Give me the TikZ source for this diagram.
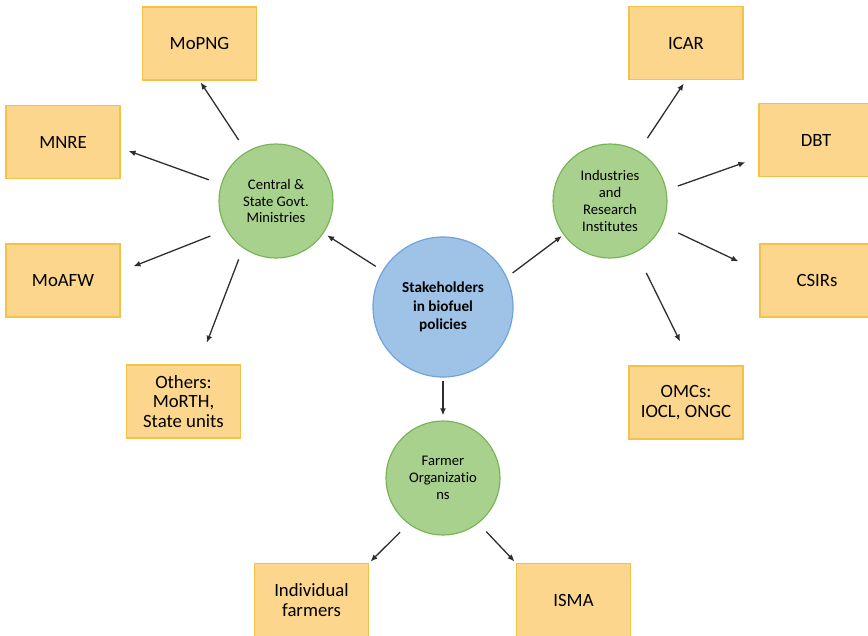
\documentclass[tikz,border=0pt]{standalone}
\usepackage{fontspec}
\setmainfont[Ligatures=NoCommon]{Carlito}
\usetikzlibrary{arrows.meta}
\definecolor{boxfill}{HTML}{FCD68C}
\definecolor{boxline}{HTML}{F6C147}
\definecolor{leaffill}{HTML}{A9D18E}
\definecolor{leafline}{HTML}{78B455}
\definecolor{hubfill}{HTML}{9FC3E7}
\definecolor{hubline}{HTML}{6FA3DA}
\definecolor{inkgray}{HTML}{2E2E2E}

\begin{document}
\begin{tikzpicture}[x=0.03cm,y=-0.03cm,
  actor/.style={draw=boxline, line width=1pt, fill=boxfill, minimum width=3.42cm, minimum height=2.19cm, inner sep=2pt, align=center, text=black, font=\fontsize{16}{16.5}\selectfont},
  group/.style={circle, draw=leafline, line width=1pt, fill=leaffill, minimum size=3.42cm, inner sep=0pt, align=center, text=black, font=\fontsize{12.5}{14.4}\selectfont},
  hub/.style={circle, draw=hubline, line width=1pt, fill=hubfill, minimum size=4.2cm, inner sep=0pt, align=center, text=black, font=\fontsize{13}{15.6}\selectfont\bfseries},
  link/.style={draw=inkgray, line width=1.1pt, -{Latex[length=6pt,width=5pt]}}]
\clip (0,0) rectangle (868,635);
% centre and the three groups
\node[hub] (stake) at (443,307) {Stakeholders\\in biofuel\\policies};
\node[group] (cgov) at (276,201) {Central \&\\State Govt.\\Ministries};
\node[group] (indus) at (610,201) {Industries\\and\\Research\\Institutes};
\node[group] (farm) at (443,478) {Farmer\\Organizat\kern0pt io\\ns};
% stakeholder boxes
\node[actor] (mopng) at (199.5,43.5) {MoPNG};
\node[actor] (mnre) at (63,142) {MNRE};
\node[actor] (moafw) at (63,280.5) {MoAFW};
\node[actor] (others) at (183.5,401.5) {Others:\\MoRTH,\\State units};
\node[actor] (icar) at (686,43) {ICAR};
\node[actor] (dbt) at (816,140) {DBT};
\node[actor] (csirs) at (817,280.5) {CSIRs};
\node[actor] (omcs) at (686,402.5) {OMCs:\\IOCL, ONGC};
\node[actor] (indiv) at (311.5,600) {Individual\\farmers};
\node[actor] (isma) at (573.5,600) {ISMA};
% connectors
\draw[link, shorten <=6.8pt, shorten >=3.4pt] (stake.149) -- (cgov.-34);
\draw[link, shorten <=6pt, shorten >=1.7pt] (stake.25) -- (indus.-144);
\draw[link, shorten <=2.6pt, shorten >=4.3pt] (stake.south) -- (farm.north);
\draw[link, shorten <=11.9pt, shorten >=1.7pt] (cgov.121) -- (mopng.south);
\draw[link, shorten <=11pt, shorten >=7.2pt] (cgov.163) -- (mnre.-6);
\draw[link, shorten <=14.5pt, shorten >=11.8pt] (cgov.210) -- (moafw.9);
\draw[link, shorten <=10.2pt, shorten >=19.8pt] (cgov.-125) -- (others.68);
\draw[link, shorten <=13.3pt, shorten >=3.4pt] (indus.60) -- (icar.south);
\draw[link, shorten <=10.2pt, shorten >=11.8pt] (indus.11) -- (dbt.197);
\draw[link, shorten <=15.3pt, shorten >=19.8pt] (indus.-25) -- (csirs.171);
\draw[link, shorten <=19.6pt, shorten >=22.7pt] (indus.-63) -- (omcs.81);
\draw[link, shorten <=9.9pt, shorten >=1.7pt] (farm.-127) -- (indiv.north east);
\draw[link, shorten <=9.7pt, shorten >=1.7pt] (farm.-52) -- (isma.north west);
\end{tikzpicture}
\end{document}
